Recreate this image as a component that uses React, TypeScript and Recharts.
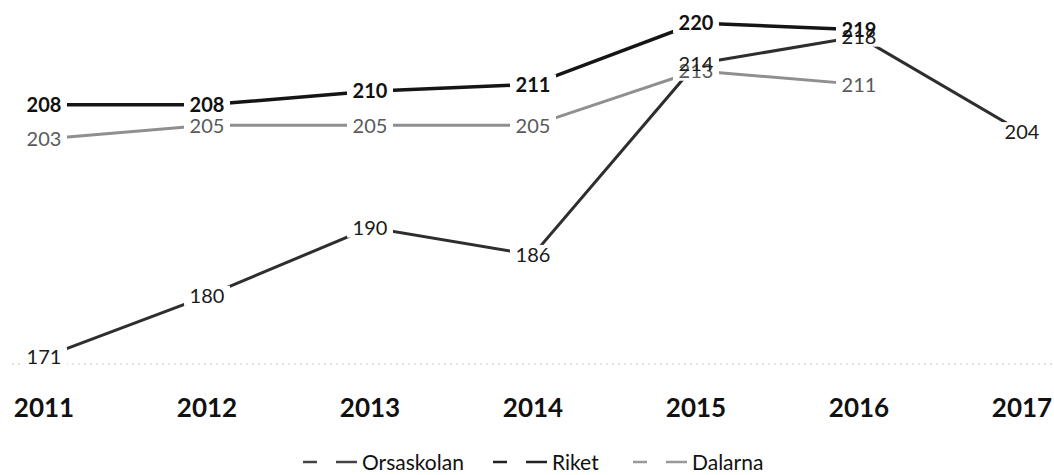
import React from 'react';
import { LineChart, Line, XAxis, YAxis, Legend, LabelList } from 'recharts';

const years = ['2011', '2012', '2013', '2014', '2015', '2016', '2017'];
const orsaskolan = [171, 180, 190, 186, 214, 218, 204];
const riket = [208, 208, 210, 211, 220, 219, null];
const dalarna = [203, 205, 205, 205, 213, 211, null];

const data = years.map((year, i) => ({
  year,
  orsaskolan: orsaskolan[i],
  riket: riket[i],
  dalarna: dalarna[i],
}));

const FONT = 'Lato, "Open Sans", sans-serif';

// white box behind each label so the line stops short of the number
const LabelBox = (props: any) => {
  const { x, y, value } = props;
  if (value == null) return null;
  return <rect x={x - 23} y={y - 10} width={46} height={20} fill="#fff" />;
};

const makeText = (color: string, weight: number) => (props: any) => {
  const { x, y, value } = props;
  if (value == null) return null;
  return (
    <text
      x={x}
      y={y}
      dy="0.36em"
      textAnchor="middle"
      fill={color}
      fontWeight={weight}
      fontSize={20}
      fontFamily={FONT}
    >
      {value}
    </text>
  );
};

const YearTick = (props: any) => {
  const { x, y, payload } = props;
  return (
    <text x={x} y={y + 51} textAnchor="middle" fontSize={26} fontWeight={700} fill="#111" fontFamily={FONT}>
      {payload.value}
    </text>
  );
};

const legendItems = [
  { name: 'Orsaskolan', color: '#444', x: 303 },
  { name: 'Riket', color: '#222', x: 493 },
  { name: 'Dalarna', color: '#999', x: 633 },
];

const CustomLegend = () => (
  <svg width={1054} height={28} style={{ display: 'block' }}>
    {legendItems.map((item) => (
      <g key={item.name}>
        <line x1={item.x} x2={item.x + 14} y1={15} y2={15} stroke={item.color} strokeWidth={2.5} />
        <line x1={item.x + 33} x2={item.x + 54} y1={15} y2={15} stroke={item.color} strokeWidth={2.5} />
        <text x={item.x + 59} y={15} dy="0.36em" fontSize={21} fill="#111" fontFamily={FONT}>
          {item.name}
        </text>
      </g>
    ))}
  </svg>
);

const hidden = { stroke: 'none', dot: false, activeDot: false, legendType: 'none' as const, isAnimationActive: false };

export default function App() {
  return (
    <div style={{ width: 1054, height: 475, background: '#fff' }}>
      <style>{'body{margin:0}'}</style>
      <LineChart width={1054} height={475} data={data} margin={{ top: 23, right: 0, left: 12, bottom: 0 }}>
        <XAxis
          dataKey="year"
          height={83}
          padding={{ left: 32, right: 32 }}
          tickLine={false}
          tickSize={0}
          axisLine={{ stroke: '#c8c8c8', strokeDasharray: '2 4' }}
          tick={<YearTick />}
          interval={0}
        />
        <YAxis hide domain={[170, 220]} />
        <Legend verticalAlign="bottom" wrapperStyle={{ left: 0, width: 1054 }} content={<CustomLegend />} />
        <Line dataKey="dalarna" stroke="#8f8f8f" strokeWidth={3} dot={false} activeDot={false} isAnimationActive={false} />
        <Line dataKey="orsaskolan" stroke="#2e2e2e" strokeWidth={3} dot={false} activeDot={false} isAnimationActive={false} />
        <Line dataKey="riket" stroke="#151515" strokeWidth={3.5} dot={false} activeDot={false} isAnimationActive={false} />
        {/* boxes first, then all label texts on top */}
        <Line dataKey="riket" {...hidden}>
          <LabelList dataKey="riket" content={LabelBox} />
        </Line>
        <Line dataKey="dalarna" {...hidden}>
          <LabelList dataKey="dalarna" content={LabelBox} />
        </Line>
        <Line dataKey="orsaskolan" {...hidden}>
          <LabelList dataKey="orsaskolan" content={LabelBox} />
        </Line>
        <Line dataKey="riket" {...hidden}>
          <LabelList dataKey="riket" content={makeText('#111', 700)} />
        </Line>
        <Line dataKey="dalarna" {...hidden}>
          <LabelList dataKey="dalarna" content={makeText('#5a5a5a', 400)} />
        </Line>
        <Line dataKey="orsaskolan" {...hidden}>
          <LabelList dataKey="orsaskolan" content={makeText('#1a1a1a', 400)} />
        </Line>
      </LineChart>
    </div>
  );
}
